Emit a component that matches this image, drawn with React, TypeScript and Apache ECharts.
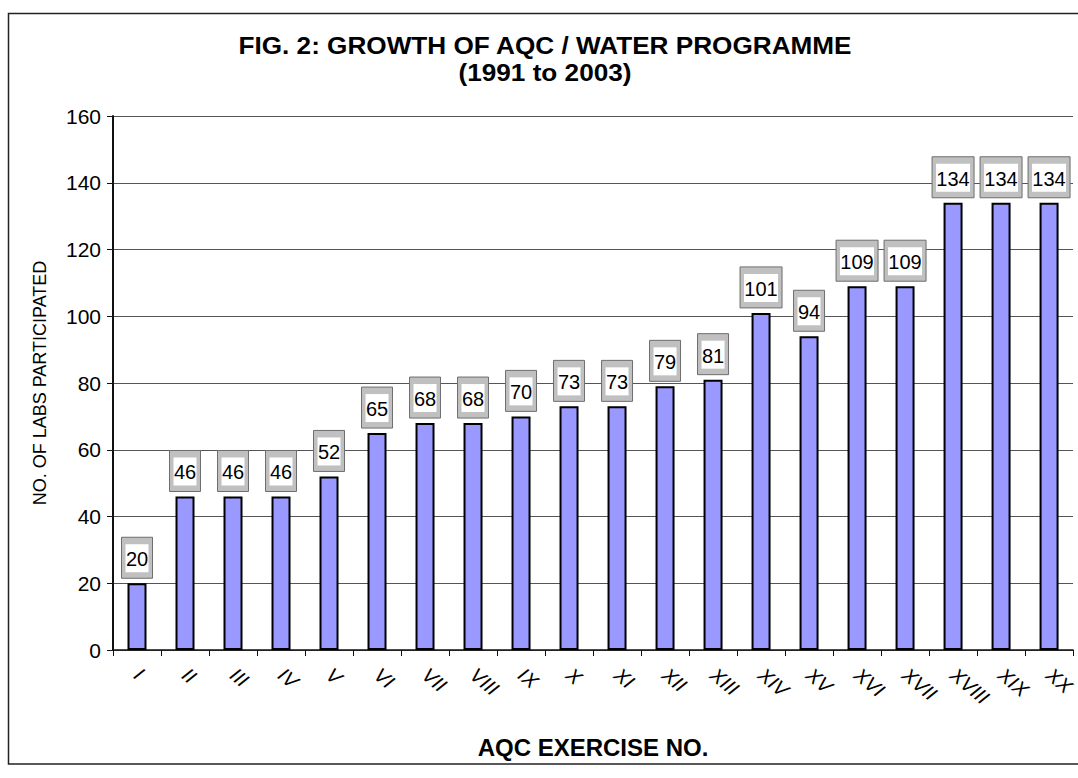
import React, { useEffect, useRef } from "react";
import * as echarts from "echarts";

const categories = [
  "I", "II", "III", "IV", "V", "VI", "VII", "VIII", "IX", "X",
  "XI", "XII", "XIII", "XIV", "XV", "XVI", "XVII", "XVIII", "XIX", "XX",
];
const labsParticipated = [
  20, 46, 46, 46, 52, 65, 68, 68, 70, 73,
  73, 79, 81, 101, 94, 109, 109, 134, 134, 134,
];
const yTicks = { min: 0, max: 160, interval: 20 };
const titleLines = ["FIG. 2: GROWTH OF AQC / WATER PROGRAMME", "(1991 to 2003)"];
const xAxisName = "AQC EXERCISE NO.";
const yAxisName = "NO. OF LABS PARTICIPATED";

const FONT = '"Liberation Sans", Arial, Helvetica, sans-serif';

export default function App() {
  const ref = useRef<HTMLDivElement>(null);

  useEffect(() => {
    if (!ref.current) return;
    const chart = echarts.init(ref.current, undefined, { renderer: "svg" });
    chart.setOption({
      animation: false,
      backgroundColor: "#ffffff",
      textStyle: { fontFamily: FONT },
      grid: { left: 113, top: 116, right: -4, bottom: 128, containLabel: false },
      graphic: [
        {
          type: "rect",
          z: -10,
          shape: { x: 8.5, y: 13.5, width: 1080, height: 750.5 },
          style: { fill: "none", stroke: "#222", lineWidth: 1.5 },
        },
        {
          type: "text",
          x: 545,
          y: 45,
          scaleX: 1.09,
          style: {
            text: titleLines[0],
            font: `bold 24px ${FONT}`,
            fill: "#000",
            align: "center",
            verticalAlign: "middle",
          },
        },
        {
          type: "text",
          x: 545,
          y: 72,
          scaleX: 1.09,
          style: {
            text: titleLines[1],
            font: `bold 24px ${FONT}`,
            fill: "#000",
            align: "center",
            verticalAlign: "middle",
          },
        },
      ],
      xAxis: {
        type: "category",
        data: categories,
        name: xAxisName,
        nameLocation: "middle",
        nameGap: 85,
        nameTextStyle: { fontFamily: FONT, fontSize: 24, fontWeight: "bold", color: "#000" },
        axisLine: { lineStyle: { color: "#111", width: 1.5 } },
        axisTick: { show: true, alignWithLabel: false, length: 6, lineStyle: { color: "#111" } },
        axisLabel: {
          interval: 0,
          rotate: -40,
          margin: 22,
          fontFamily: FONT,
          fontSize: 20,
          fontStyle: "italic",
          color: "#000",
        },
      },
      yAxis: {
        type: "value",
        min: yTicks.min,
        max: yTicks.max,
        interval: yTicks.interval,
        name: yAxisName,
        nameLocation: "middle",
        nameGap: 64,
        nameRotate: 90,
        nameTextStyle: { fontFamily: FONT, fontSize: 18, color: "#000" },
        axisLine: { show: true, lineStyle: { color: "#111", width: 2 } },
        axisTick: { show: true, inside: false, length: 6, lineStyle: { color: "#111" } },
        axisLabel: { margin: 12, fontFamily: FONT, fontSize: 21, color: "#000" },
        splitLine: { show: true, lineStyle: { color: "#555", width: 1 } },
      },
      series: [
        {
          type: "bar",
          data: labsParticipated,
          barWidth: 19,
          itemStyle: { color: "#9999ff", borderColor: "#000", borderWidth: 2 },
          z: 2,
        },
        {
          type: "custom",
          z: 5,
          data: labsParticipated.map((v, i) => [i, v]),
          encode: { x: 0, y: 1 },
          renderItem: (params: any, api: any) => {
            const idx = api.value(0);
            const v = api.value(1);
            const p = api.coord([idx, v]);
            const txt = String(v);
            const w = txt.length > 2 ? 42 : 31;
            const h = 41;
            const x = p[0] - w / 2;
            const y = p[1] - 5 - h;
            return {
              type: "group",
              children: [
                {
                  type: "rect",
                  shape: { x, y, width: w, height: h },
                  style: { fill: "#c0c0c0", stroke: "#6e6e6e", lineWidth: 1 },
                },
                {
                  type: "rect",
                  shape: { x: x + 4, y: y + 7, width: w - 8, height: h - 13 },
                  style: { fill: "#ffffff" },
                },
                {
                  type: "text",
                  x: p[0],
                  y: y + 7 + (h - 13) / 2 + 1,
                  style: {
                    text: txt,
                    fill: "#000",
                    font: `20px ${FONT}`,
                    align: "center",
                    verticalAlign: "middle",
                  },
                },
              ],
            };
          },
        },
      ],
    });
    return () => chart.dispose();
  }, []);

  return (
    <div
      ref={ref}
      style={{ position: "fixed", left: 0, top: 0, width: 1078, height: 778, background: "#fff" }}
    />
  );
}
